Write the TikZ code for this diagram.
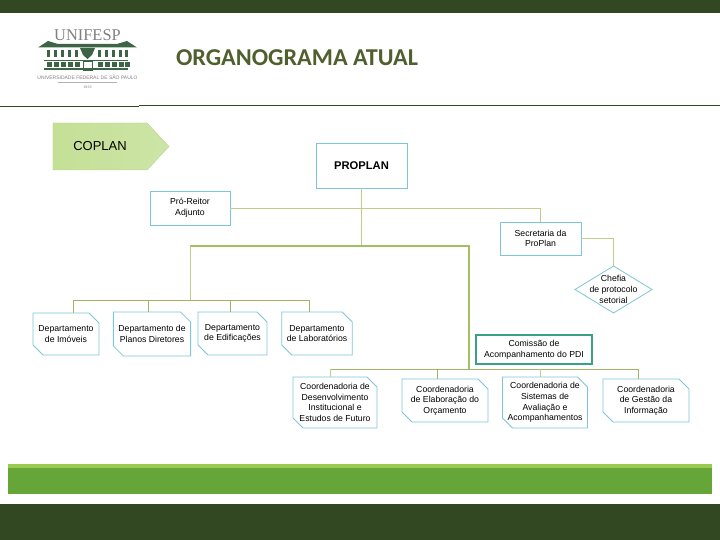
\documentclass[tikz,border=0pt]{standalone}
\usepackage{fontspec}
\setmainfont{Liberation Sans}
\newfontfamily\titlefont{Carlito}
\newfontfamily\logofont{Liberation Serif}
\usepackage{xcolor}
\usetikzlibrary{shapes.geometric, shapes.misc, shapes.symbols, positioning, calc}
\definecolor{bandgreen}{RGB}{50,72,34}
\definecolor{titlegreen}{RGB}{79,95,45}
\definecolor{logogreen}{RGB}{62,100,70}
\definecolor{boxblue}{RGB}{125,197,218}
\definecolor{linegreen}{RGB}{190,205,140}
\definecolor{trunkgreen}{RGB}{165,190,95}
\definecolor{tealgreen}{RGB}{60,160,135}
\definecolor{stripgreen}{RGB}{102,166,56}
\definecolor{striplight}{RGB}{155,202,80}
\definecolor{coplangreen}{RGB}{196,224,150}

\begin{document}
\begin{tikzpicture}[
    x=1pt, y=-1pt,
    every node/.style={inner sep=0pt, outer sep=0pt, align=center},
    plainbox/.style={rectangle, draw=boxblue, thick, fill=white, font=\fontsize{8.7}{10.7}\selectfont},
    cutbox/.style={chamfered rectangle, chamfered rectangle corners={north east, south west},
        chamfered rectangle xsep=5pt, chamfered rectangle ysep=5pt,
        draw=boxblue, thick, fill=white, font=\fontsize{8.7}{10.7}\selectfont},
    link/.style={draw=linegreen, line width=0.8pt},
    trunk/.style={draw=trunkgreen, line width=1.1pt},
    branch/.style={draw=trunkgreen!85!gray, line width=0.8pt},
    band/.style={fill=bandgreen, draw=none}
]
\useasboundingbox (0,0) rectangle (720,540);

% bands and header rule
\fill[band] (0,0) rectangle (720,13);
\fill[band] (0,504) rectangle (720,540);
\fill[stripgreen] (8,464) rectangle (712,494);
\fill[striplight] (8,464) rectangle (712,468);
\draw[bandgreen, line width=0.8pt] (0,106) -- (139,106);
\draw[bandgreen, line width=0.8pt] (139,105) -- (720,105);

% logo
\node[font=\logofont\fontsize{16.4}{16}\selectfont, text=gray] (unifesp) at (87.5,35) {UNIFESP};
\fill[logogreen] (38,47.5) -- (48,41) -- (58,44) -- (87.5,44) -- (117,44) -- (127,41) -- (137,47.5) -- cycle;
\foreach \px in {47,54,61,68,75,98,105,112,119,125} {
    \fill[logogreen] (\px,50) rectangle ++(3,7.5);
    \fill[logogreen] (\px,62.5) rectangle ++(5,5);
}
\fill[logogreen] (80,48) -- (95,48) -- (92,55) -- (87.5,59) -- (83,55) -- cycle;
\fill[logogreen] (44,60) rectangle (128,61.5);
\fill[logogreen] (44,68.5) rectangle (128,70.5);
\draw[logogreen, line width=0.6pt] (83,61) rectangle (92,70);
\node[font=\fontsize{5}{5}\selectfont, text=gray] (unifespname) at (87.5,77) {UNIVERSIDADE FEDERAL DE SÃO PAULO};
\draw[gray!60, line width=0.3pt] (58,82) -- (117,82);
\node[font=\fontsize{3.6}{3.6}\selectfont, text=gray] (unifespyear) at (87.5,87) {1933};

\node[font=\titlefont\bfseries\fontsize{24.2}{24}\selectfont, text=titlegreen, anchor=west] (title) at (176,58) {ORGANOGRAMA ATUAL};

% coplan
\node[signal, signal to=east, signal pointer angle=94, draw=coplangreen!85!gray,
    left color=coplangreen, right color=coplangreen!85!white, minimum width=116pt, minimum height=47pt,
    font=\fontsize{13}{15}\selectfont] (coplan) at (100,146.5) {COPLAN};

% top boxes
\node[plainbox, minimum width=91pt, minimum height=45pt, font=\bfseries\fontsize{11.2}{13}\selectfont] (proplan) at (361.5,165.5) {PROPLAN};
\node[plainbox, minimum width=80pt, minimum height=34pt] (adjunto) at (190,208) {Pró-Reitor\\Adjunto};
\node[plainbox, minimum width=81pt, minimum height=33pt] (secretaria) at (540.5,238.5) {Secretaria da\\ProPlan};
\node[diamond, shape aspect=1.64, inner xsep=-8pt, inner ysep=-3pt, draw=boxblue, thick, fill=white, minimum width=77pt, minimum height=47pt, font=\fontsize{8.7}{10.7}\selectfont] (chefia) at (613.5,289.5) {Chefia\\de protocolo\\setorial};
\node[plainbox, draw=tealgreen, line width=1.1pt, minimum width=116pt, minimum height=29pt] (comissao) at (534,349.5) {Comissão de\\Acompanhamento do PDI};

% departamentos
\node[cutbox, minimum width=66pt, minimum height=42pt] (imoveis) at (66,334) {Departamento\\de Imóveis};
\node[cutbox, minimum width=74pt, minimum height=44pt] (planos) at (152,334) {Departamento de\\Planos Diretores};
\node[cutbox, minimum width=69pt, minimum height=43pt] (edificacoes) at (232.5,333.5) {Departamento\\de Edificações};
\node[cutbox, minimum width=70pt, minimum height=43pt] (laboratorios) at (317,333.5) {Departamento\\de Laboratórios};

% coordenadorias
\node[cutbox, minimum width=84pt, minimum height=51pt] (futuro) at (335,402.5) {Coordenadoria de\\Desenvolvimento\\Institucional e\\Estudos de Futuro};
\node[cutbox, minimum width=86pt, minimum height=43pt] (orcamento) at (445,400.5) {Coordenadoria\\de Elaboração do\\Orçamento};
\node[cutbox, minimum width=84pt, minimum height=51pt] (sistemas) at (545,402.5) {Coordenadoria de\\Sistemas de\\Avaliação e\\Acompanhamentos};
\node[cutbox, minimum width=86pt, minimum height=43pt] (gestao) at (646,400.5) {Coordenadoria\\de Gestão da\\Informação};

% junctions
\coordinate (hubtop) at (361.5,246);
\coordinate (hubleft) at (190,246);
\coordinate (hubright) at (469,246);
\coordinate (hubdep) at (190,300);
\coordinate (hubcoord) at (469,369);
\coordinate (dropimoveis) at ([xshift=7pt]imoveis.north);
\coordinate (dropplanos) at ([xshift=-4pt]planos.north);
\coordinate (dropedificacoes) at ([xshift=-2.5pt]edificacoes.north);
\coordinate (droplaboratorios) at ([xshift=-8pt]laboratorios.north);
\coordinate (dropfuturo) at ([xshift=-5pt]futuro.north);
\coordinate (droporcamento) at ([xshift=-8pt]orcamento.north);
\coordinate (dropsistemas) at ([xshift=-5pt]sistemas.north);
\coordinate (dropgestao) at ([xshift=-8pt]gestao.north);

% links
\draw[link] (adjunto.east) -- (secretaria.north |- adjunto.east) -- (secretaria.north);
\draw[link] (secretaria.east) -- (chefia.north |- secretaria.east) -- (chefia.north);
\draw[link] (proplan.south) -- (hubtop);
\draw[trunk] (hubleft) -- (hubright) -- (hubcoord);
\draw[link] (hubleft) -- (hubdep);
\draw[branch] (dropimoveis |- hubdep) -- (droplaboratorios |- hubdep);
\draw[branch] (dropimoveis |- hubdep) -- (dropimoveis);
\draw[branch] (dropplanos |- hubdep) -- (dropplanos);
\draw[branch] (dropedificacoes |- hubdep) -- (dropedificacoes);
\draw[branch] (droplaboratorios |- hubdep) -- (droplaboratorios);
\draw[branch] (dropfuturo |- hubcoord) -- (dropgestao |- hubcoord);
\draw[link] (dropfuturo |- hubcoord) -- (dropfuturo);
\draw[branch] (droporcamento |- hubcoord) -- (droporcamento);
\draw[link] (dropsistemas |- hubcoord) -- (dropsistemas);
\draw[branch] (dropgestao |- hubcoord) -- (dropgestao);
\end{tikzpicture}
\end{document}
